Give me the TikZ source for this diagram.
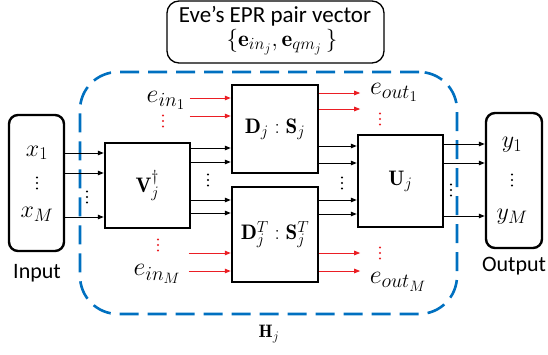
\RequirePackage{fix-cm}
\documentclass[tikz,border=0pt]{standalone}
\usepackage{fontspec}
\setsansfont{Carlito}
\DeclareMathSizes{26}{26}{20}{15}
\DeclareMathSizes{24}{24}{18}{14}
\DeclareMathSizes{23}{23}{17}{13}
\DeclareMathSizes{21}{21}{16}{12}
\DeclareMathSizes{18}{18}{13}{10}
\usetikzlibrary{arrows.meta,calc}
\definecolor{hblue}{RGB}{0,112,192}
\definecolor{ered}{RGB}{235,30,36}
\begin{document}
\begin{tikzpicture}[x=1pt,y=-1pt,
  blk/.style={draw,line width=2.4pt,inner sep=0pt,rectangle,font=\fontsize{21}{25}\selectfont},
  io/.style={draw,line width=2.4pt,rounded corners=9pt,inner sep=0pt},
  arr/.style={-{Triangle[length=6pt,width=4.5pt]},line width=1pt},
  rarr/.style={arr,draw=ered,fill=ered},
  lbl/.style={font=\fontsize{24}{28}\selectfont,inner sep=0pt},
  elbl/.style={font=\fontsize{26}{30}\selectfont,inner sep=0pt},
  word/.style={font=\sffamily\fontsize{22}{26}\selectfont,inner sep=0pt},
  vd/.pic={\fill (0,-5.5) circle (1.2pt) (0,0) circle (1.2pt) (0,5.5) circle (1.2pt);},
  rvd/.pic={\fill[ered] (0,-5.5) circle (1.1pt) (0,0) circle (1.1pt) (0,5.5) circle (1.1pt);}
]
\useasboundingbox (0,0) rectangle (548,354);
% Eve box
\node[draw,line width=1.3pt,rounded corners=12pt,minimum width=217pt,minimum height=62pt,inner sep=0pt] (eve) at (275.5,32) {};
\node[font=\sffamily\fontsize{23}{26}\selectfont,inner sep=0pt] (eveA) at (275,16) {Eve’s EPR pair vector};
\node[font=\fontsize{23}{26}\selectfont,inner sep=0pt] (eveB) at (282,42) {$\{\mathbf{e}_{in_j},\mathbf{e}_{qm_j}\,\}$};
% dashed H region
\node[draw=hblue,line width=2.6pt,dash pattern=on 19pt off 9pt,rounded corners=38pt,minimum width=377pt,minimum height=242pt,inner sep=0pt] (H) at (268.5,193) {};
\node[font=\fontsize{18}{20}\selectfont,inner sep=0pt] (Hl) at (269,334) {$\mathbf{H}_j$};
% io boxes
\node[io,minimum width=55pt,minimum height=136pt] (in) at (36.5,183) {};
\node[io,minimum width=56pt,minimum height=135pt] (out) at (514,180.5) {};
\node[lbl] (x1) at (37,153) {$x_1$};
\node[lbl] (xM) at (37,214) {$x_M$};
\pic at (37,183) {vd};
\node[lbl] (y1) at (512,145) {$y_1$};
\node[lbl] (yM) at (512,217) {$y_M$};
\pic at (512,180) {vd};
\node[word] (inl) at (37,273) {Input};
\node[word] (outl) at (514,266) {Output};
% blocks
\node[blk,minimum width=85pt,minimum height=85pt] (V) at (147.5,185.5) {$\mathbf{V}_j^{\dagger}$};
\node[blk,minimum width=86pt,minimum height=88pt] (D) at (275,129) {$\mathbf{D}_j:\mathbf{S}_j$};
\node[blk,minimum width=86pt,minimum height=95pt] (DT) at (275,234.5) {$\mathbf{D}_j^T:\mathbf{S}_j^T$};
\node[blk,minimum width=85pt,minimum height=92pt] (U) at (400.5,181) {$\mathbf{U}_j$};
% black arrows
\foreach \yy in {153,173,217} \draw[arr] (in.east |- 0,\yy) -- (V.west |- 0,\yy);
\foreach \yy in {148,162} \draw[arr] (V.east |- 0,\yy) -- (D.west |- 0,\yy);
\foreach \yy in {200,213} \draw[arr] (V.east |- 0,\yy) -- (DT.west |- 0,\yy);
\foreach \yy in {146,163} \draw[arr] (D.east |- 0,\yy) -- (U.west |- 0,\yy);
\foreach \yy in {200,214} \draw[arr] (DT.east |- 0,\yy) -- (U.west |- 0,\yy);
\foreach \yy in {144,163,216} \draw[arr] (U.east |- 0,\yy) -- (out.west |- 0,\yy);
\pic at (87,197) {vd};
\pic at (208,180) {vd};
\pic at (342,183) {vd};
\pic at (451,190) {vd};
% red arrows
\foreach \yy in {98,116} \draw[rarr] ([xshift=-41pt]D.west |- 0,\yy) -- (D.west |- 0,\yy);
\foreach \yy in {253,271} \draw[rarr] ([xshift=-42pt]DT.west |- 0,\yy) -- (DT.west |- 0,\yy);
\foreach \yy in {93,109} \draw[rarr] (D.east |- 0,\yy) -- ([xshift=41pt]D.east |- 0,\yy);
\foreach \yy in {253,271} \draw[rarr] (DT.east |- 0,\yy) -- ([xshift=41pt]DT.east |- 0,\yy);
\pic at (163,121) {rvd};
\pic at (158,245) {rvd};
\pic at (380,119) {rvd};
\pic at (380,253) {rvd};
\node[elbl] (ein1) at (166,100) {$e_{in_1}$};
\node[elbl] (einM) at (157,274) {$e_{in_M}$};
\node[elbl] (eout1) at (394,92) {$e_{out_1}$};
\node[elbl] (eoutM) at (398,282) {$e_{out_M}$};
\end{tikzpicture}
\end{document}
